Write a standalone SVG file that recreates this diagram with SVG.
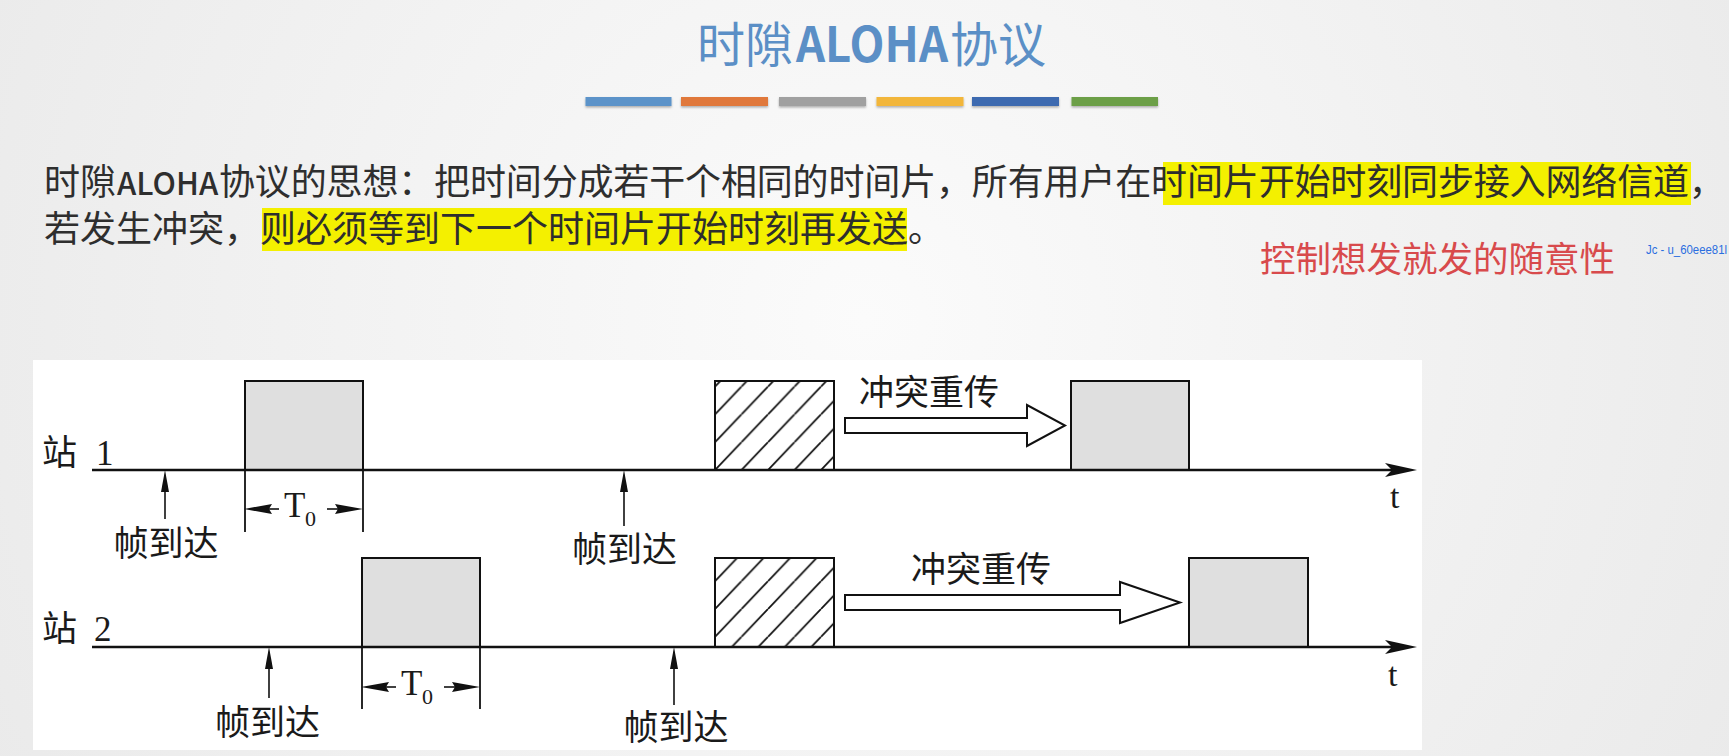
<svg xmlns="http://www.w3.org/2000/svg" width="1729" height="756" viewBox="0 0 1729 756">
  <defs>
    <radialGradient id="pageBg" cx="865" cy="320" r="1050" gradientUnits="userSpaceOnUse">
      <stop offset="0" stop-color="#fbfbfb"/>
      <stop offset="1" stop-color="#e9e9e9"/>
    </radialGradient>
    <filter id="barShadow" x="-10%" y="-60%" width="120%" height="240%">
      <feDropShadow dx="0" dy="1.5" stdDeviation="1.2" flood-color="#000" flood-opacity="0.3"/>
    </filter>
    <!-- diagonal hatching for collided frames -->
    <pattern id="hatch" patternUnits="userSpaceOnUse" x="715" y="442.2" width="26.5" height="27.8">
      <path d="M-26.5,27.8 L0,0 M0,27.8 L26.5,0 M26.5,27.8 L53,0" stroke="#111" stroke-width="1.8" fill="none"/>
    </pattern>
    <marker id="upHead" markerUnits="userSpaceOnUse" viewBox="0 -5 22 10" refX="10" refY="0" markerWidth="22" markerHeight="10" orient="auto">
      <path d="M0,-4 L22,0 L0,4 z" fill="#111"/>
    </marker>
    <marker id="dimHead" markerUnits="userSpaceOnUse" viewBox="0 -6 28 12" refX="16" refY="0" markerWidth="28" markerHeight="12" orient="auto">
      <path d="M0,-5 L28,0 L0,5 L3,0 z" fill="#111"/>
    </marker>
    <marker id="axisHead" markerUnits="userSpaceOnUse" viewBox="0 -8 32 16" refX="15" refY="0" markerWidth="32" markerHeight="16" orient="auto">
      <path d="M0,-7 L32,0 L0,7 L7,0 z" fill="#111"/>
    </marker>
    <style>
      .cjk { font-family: "Noto Sans CJK SC", sans-serif; }
      .title { font-size: 48px; fill: #5b8fc6; }
      .body { font-size: 36px; fill: #2e2e2e; }
      .hl { fill: #f4f000; }
      .note { font-size: 35.5px; fill: #d84a4c; }
      .wm { font-family: "Liberation Sans", sans-serif; font-size: 12px; fill: #2a6ee0; }
      .fig { font-family: "Noto Sans CJK SC", sans-serif; font-size: 35px; fill: #1a1a1a; }
      .serif { font-family: "Liberation Serif", "Noto Sans CJK SC", serif; fill: #1a1a1a; }
      .frame { fill: #dfdfdf; stroke: #111; stroke-width: 2; }
      .collide { fill: url(#hatch); stroke: #111; stroke-width: 2; }
      .axis { stroke: #111; stroke-width: 2.6; fill: none; marker-end: url(#axisHead); }
      .arrive { stroke: #111; stroke-width: 1.6; fill: none; marker-end: url(#upHead); }
      .dimline { stroke: #111; stroke-width: 1.8; fill: none; }
      .dim { stroke: #111; stroke-width: 1.6; fill: none; marker-end: url(#dimHead); }
      .retx { fill: #fff; stroke: #111; stroke-width: 2; stroke-linejoin: miter; }
    </style>
  </defs>

  <!-- page background -->
  <rect x="0" y="0" width="1729" height="756" fill="url(#pageBg)"/>

  <!-- heading -->
  <g id="title">
    <text class="cjk title" x="697" y="62">时隙<tspan x="796" font-weight="bold" textLength="152" lengthAdjust="spacingAndGlyphs">ALOHA</tspan><tspan x="950">协议</tspan></text>
  </g>
  <g id="color-bars" filter="url(#barShadow)">
    <rect x="585.5" y="97" width="86" height="9" fill="#5b93c9"/>
    <rect x="681" y="97" width="87" height="9" fill="#e0783a"/>
    <rect x="779" y="97" width="87" height="9" fill="#a0a0a0"/>
    <rect x="876.5" y="97" width="87" height="9" fill="#f2b63b"/>
    <rect x="972" y="97" width="87" height="9" fill="#3e6bb0"/>
    <rect x="1071.5" y="97" width="86.5" height="9" fill="#6c9f47"/>
  </g>

  <!-- explanation paragraph -->
  <g id="description">
    <rect class="hl" x="1163" y="162" width="528" height="43"/>
    <rect class="hl" x="262" y="208" width="645" height="43"/>
    <text class="cjk body" x="44" y="195">时隙<tspan x="117" font-size="31" font-weight="500">ALOHA</tspan><tspan x="219" letter-spacing="-0.15">协议的思想：把时间分成若干个相同的时间片，所有用户在时间片开始时刻同步接入网络信道，</tspan></text>
    <text class="cjk body" x="44" y="242">若发生冲突，则必须等到下一个时间片开始时刻再发送。</text>
  </g>
  <g id="remark">
    <text class="cjk note" x="1260" y="272">控制想发就发的随意性</text>
  </g>
  <g id="watermark">
    <text class="wm" x="1646" y="254" textLength="81" lengthAdjust="spacingAndGlyphs">Jc - u_60eee81l</text>
  </g>

  <!-- timing figure panel -->
  <rect id="figure-panel" x="33" y="360" width="1389" height="390" fill="#ffffff"/>

  <!-- station 1 -->
  <g id="station1-label">
    <text class="fig" x="42" y="465" font-size="34">站</text>
    <text class="serif" x="96" y="465" font-size="35">1</text>
  </g>
  <g id="s1-frame">
    <rect class="frame" x="245" y="381" width="118" height="89"/>
  </g>
  <g id="s1-collision">
    <rect class="collide" x="715" y="381" width="119" height="89"/>
  </g>
  <g id="s1-retransmit">
    <rect class="frame" x="1071" y="381" width="118" height="89"/>
  </g>
  <g id="s1-labels">
    <text class="fig" x="166" y="556" text-anchor="middle">帧到达</text>
    <text class="fig" x="624.5" y="562" text-anchor="middle">帧到达</text>
    <text class="fig" x="859" y="405">冲突重传</text>
    <text class="serif" x="1390" y="508" font-size="34">t</text>
    <text class="serif" x="284" y="517" font-size="35">T</text>
    <text class="serif" x="305" y="526" font-size="22">0</text>
  </g>

  <!-- station 2 -->
  <g id="station2-label">
    <text class="fig" x="42" y="641" font-size="34">站</text>
    <text class="serif" x="94" y="641" font-size="35">2</text>
  </g>
  <g id="s2-frame">
    <rect class="frame" x="362" y="558" width="118" height="89"/>
  </g>
  <g id="s2-collision">
    <rect class="collide" x="715" y="558" width="119" height="89"/>
  </g>
  <g id="s2-retransmit">
    <rect class="frame" x="1189" y="558" width="119" height="89"/>
  </g>
  <g id="s2-labels">
    <text class="fig" x="267.5" y="735" text-anchor="middle">帧到达</text>
    <text class="fig" x="676" y="740" text-anchor="middle">帧到达</text>
    <text class="fig" x="911" y="582">冲突重传</text>
    <text class="serif" x="1388" y="686" font-size="34">t</text>
    <text class="serif" x="401" y="695" font-size="35">T</text>
    <text class="serif" x="422" y="704" font-size="22">0</text>
  </g>

  <!-- connectors: time axes, arrival arrows, slot dimensions, retransmission arrows -->
  <g id="connectors">
    <line class="axis" x1="92" y1="470" x2="1400" y2="470"/>
    <line class="axis" x1="92" y1="647" x2="1400" y2="647"/>

    <line class="arrive" x1="165" y1="519" x2="165" y2="482"/>
    <line class="arrive" x1="624" y1="526" x2="624" y2="482"/>
    <line class="arrive" x1="269" y1="698" x2="269" y2="659"/>
    <line class="arrive" x1="674" y1="705" x2="674" y2="659"/>

    <line class="dimline" x1="245" y1="470" x2="245" y2="532"/>
    <line class="dimline" x1="363" y1="470" x2="363" y2="532"/>
    <line class="dim" x1="279" y1="509" x2="256" y2="509"/>
    <line class="dim" x1="327" y1="509" x2="351" y2="509"/>

    <line class="dimline" x1="362" y1="647" x2="362" y2="709"/>
    <line class="dimline" x1="480" y1="647" x2="480" y2="709"/>
    <line class="dim" x1="396" y1="687" x2="373" y2="687"/>
    <line class="dim" x1="444" y1="687" x2="468" y2="687"/>

    <path class="retx" d="M845,418 H1027 V405 L1065,425.5 L1027,446 V433 H845 Z"/>
    <path class="retx" d="M845,595 H1120 V582 L1180,602.5 L1120,623 V610 H845 Z"/>
  </g>
</svg>
